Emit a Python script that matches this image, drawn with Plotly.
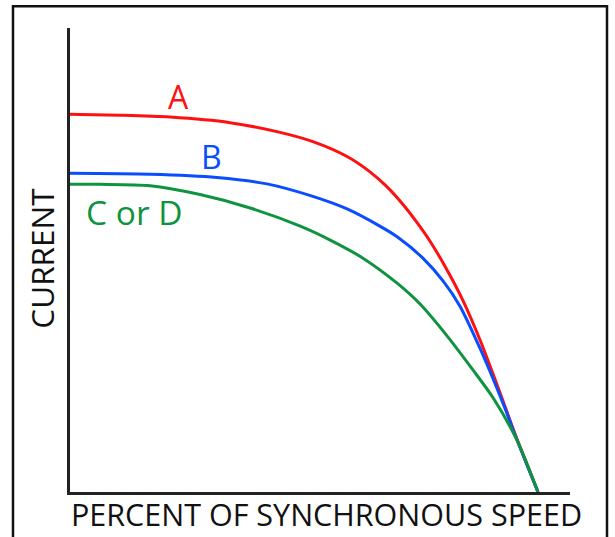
import plotly.graph_objects as go

# percent of synchronous speed / current (relative units, axis top = 100)
speed_a = [0, 10.7, 21.4, 34.2, 44.9, 51.9, 59.2, 64.1, 67.7, 71.2, 74.2, 76.9, 80.6, 84.0, 87.6, 90.4, 93.0, 95.1, 97.7, 100]
current_a = [81.4, 81.2, 80.8, 79.6, 77.5, 75.5, 72.3, 69.0, 65.8, 61.9, 58.0, 54.1, 47.8, 41.2, 32.8, 25.4, 18.3, 12.5, 5.8, 0]

speed_b = [0, 17.1, 31.4, 42.1, 51.9, 59.2, 66.2, 69.9, 75.4, 79.7, 83.3, 87.6, 90.4, 93.0, 95.1, 100]
current_b = [68.7, 68.5, 67.8, 66.4, 63.7, 61.0, 57.3, 55.0, 50.4, 45.5, 40.1, 31.0, 24.4, 17.9, 12.3, 0]

speed_cd = [0, 6.4, 17.1, 27.8, 38.5, 49.2, 55.6, 62.6, 69.9, 74.8, 80.6, 86.1, 90.4, 95.5, 100]
current_cd = [66.3, 66.3, 66.0, 64.1, 61.2, 57.3, 54.3, 50.4, 45.0, 40.5, 33.6, 26.3, 20.3, 11.2, 0]

curve_names = ["A", "B", "C or D"]
curve_colors = ["#ff1010", "#0a4dff", "#0e9440"]
label_pos = [(23.1, 85.3), (30.2, 72.2), (13.8, 60.3)]
label_sizes = [32, 32, 33.5]

FONT = "Open Sans"

fig = go.Figure()
for name, xs, ys, col in zip(curve_names, [speed_a, speed_b, speed_cd],
                             [current_a, current_b, current_cd], curve_colors):
    fig.add_trace(go.Scatter(x=xs, y=ys, mode="lines", name=name,
                             line=dict(color=col, width=3, shape="spline", smoothing=0.8)))

# curve labels
for name, (lx, ly), col, sz in zip(curve_names, label_pos, curve_colors, label_sizes):
    fig.add_annotation(x=lx, y=ly, text=name, showarrow=False,
                       font=dict(family=FONT, size=sz, color=col))

# axis titles
fig.add_annotation(xref="paper", yref="paper", x=0.512, y=-0.047, text="PERCENT OF SYNCHRONOUS SPEED",
                   showarrow=False, xanchor="center", yanchor="middle",
                   font=dict(family=FONT, size=30.5, color="#111"))
fig.add_annotation(xref="paper", yref="paper", x=-0.057, y=0.504, text="CURRENT", textangle=-90,
                   showarrow=False, xanchor="center", yanchor="middle",
                   font=dict(family=FONT, size=31.5, color="#111"))

# outer frame
fig.add_shape(type="rect", xref="paper", yref="paper", x0=-0.114, x1=1.074, y0=-0.2, y1=1.047,
              line=dict(color="#111", width=2.5), layer="above")

fig.update_layout(
    width=615, height=537,
    margin=dict(l=70, r=45, t=28, b=45),
    plot_bgcolor="white", paper_bgcolor="white",
    showlegend=False,
)
fig.update_xaxes(range=[0, 106.84], showline=True, linecolor="#222", linewidth=3,
                 showgrid=False, zeroline=False, showticklabels=False, ticks="")
fig.update_yaxes(range=[0, 100], showline=True, linecolor="#222", linewidth=3,
                 showgrid=False, zeroline=False, showticklabels=False, ticks="")

fig.write_html("out.html", config={"displayModeBar": False},
               post_script="document.body.style.margin='0';")
